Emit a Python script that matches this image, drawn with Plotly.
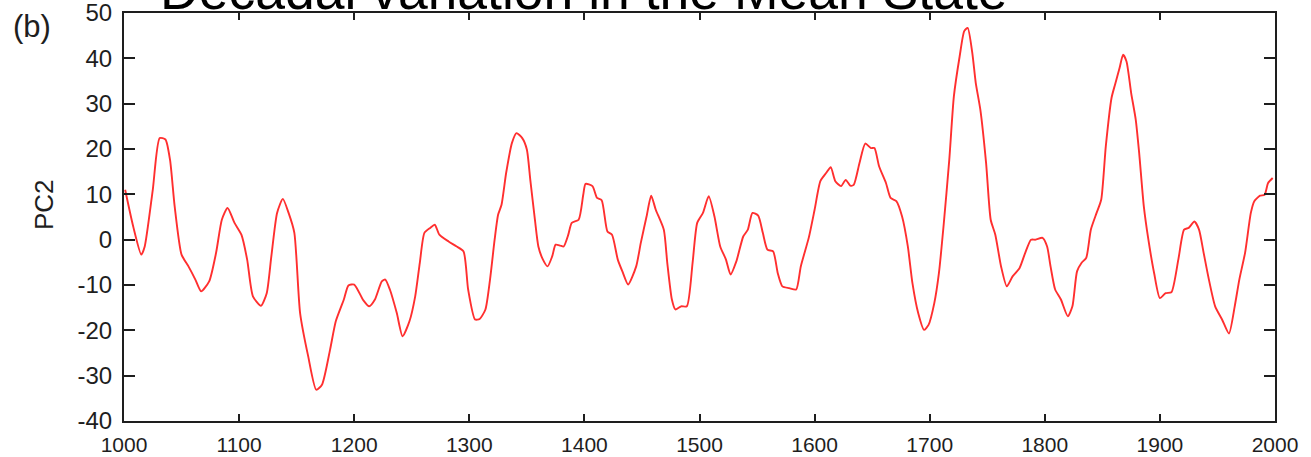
import plotly.graph_objects as go

# PC2 of the decadal mean-state variation, years 1000-2000
years = [
    1001, 1008, 1015, 1018, 1025, 1031, 1036, 1040, 1044, 1050, 1056, 1062, 1067,
    1074, 1080, 1085, 1090, 1096, 1102, 1107, 1112, 1119, 1124, 1128, 1133, 1138,
    1143, 1148, 1153, 1160, 1167, 1172, 1179, 1184, 1191, 1195, 1200, 1208, 1213,
    1218, 1224, 1227, 1231, 1237, 1242, 1248, 1253, 1257, 1261, 1266, 1270, 1274,
    1282, 1289, 1295, 1299, 1305, 1309, 1314, 1318, 1322, 1325, 1328, 1332, 1337,
    1341, 1346, 1350, 1353, 1357, 1360, 1364, 1368, 1372, 1375, 1379, 1382, 1386,
    1389, 1395, 1399, 1401, 1407, 1411, 1415, 1420, 1424, 1429, 1433, 1438, 1445,
    1449, 1454, 1458, 1462, 1469, 1472, 1476, 1479, 1484, 1489, 1494, 1498, 1503,
    1508, 1513, 1518, 1523, 1527, 1532, 1538, 1542, 1546, 1551, 1555, 1559, 1564,
    1568, 1572, 1578, 1584, 1588, 1595, 1600, 1605, 1610, 1614, 1618, 1623, 1627,
    1631, 1634, 1639, 1644, 1649, 1652, 1656, 1662, 1666, 1671, 1676, 1681, 1685,
    1690, 1695, 1699, 1704, 1708, 1712, 1717, 1721, 1726, 1730, 1733, 1737, 1740,
    1744, 1749, 1753, 1757, 1762, 1767, 1772, 1778, 1783, 1788, 1792, 1798, 1802,
    1805, 1809, 1814, 1820, 1824, 1828, 1832, 1836, 1840, 1845, 1849, 1853, 1858,
    1861, 1865, 1868, 1871, 1875, 1879, 1882, 1886, 1890, 1895, 1900, 1905, 1910,
    1916, 1921, 1925, 1930, 1934, 1938, 1942, 1948, 1954, 1960, 1965, 1969, 1974,
    1979, 1982, 1987, 1991, 1994, 1998,
]
pc2 = [
    11.0, 2.9, -3.3, -1.5, 11.0, 22.4, 22.1, 17.6, 7.4, -3.3, -5.9, -8.8, -11.4,
    -9.2, -2.9, 4.4, 7.0, 3.7, 1.1, -4.4, -12.5, -14.6, -11.8, -3.7, 5.9, 9.0,
    5.9, 1.5, -16.2, -25.7, -33.1, -32.0, -24.3, -18.0, -13.2, -10.1, -9.9, -13.4, -14.7,
    -13.2, -9.2, -8.8, -11.0, -16.2, -21.3, -18.0, -12.5, -5.1, 1.5, 2.6, 3.3, 1.1,
    -0.4, -1.5, -2.6, -11.0, -17.6, -17.5, -15.4, -8.8, 0.0, 5.5, 7.7, 14.7, 21.3,
    23.5, 22.4, 19.9, 13.2, 4.4, -1.5, -4.4, -5.9, -3.7, -1.1, -1.3, -1.5, 1.1,
    3.7, 4.4, 9.9, 12.3, 11.8, 9.2, 8.7, 1.8, 1.1, -4.4, -7.0, -9.9, -5.9,
    -0.7, 5.1, 9.7, 6.6, 2.2, -5.1, -13.2, -15.4, -14.7, -14.7, -5.1, 3.7, 5.9,
    9.6, 5.1, -1.5, -4.4, -7.7, -4.8, 0.7, 2.2, 5.9, 5.3, 1.5, -2.2, -2.6,
    -7.4, -10.3, -10.7, -11.0, -5.9, 0.5, 6.6, 12.9, 14.7, 16.0, 12.9, 11.8, 13.2,
    11.9, 12.1, 16.9, 21.2, 20.2, 20.2, 16.2, 12.5, 9.2, 8.5, 5.1, -1.5, -9.6,
    -16.2, -19.9, -18.8, -14.0, -7.4, 2.9, 17.6, 31.6, 40.4, 46.0, 46.7, 41.2, 34.6,
    28.7, 16.9, 4.4, 1.1, -5.9, -10.3, -8.1, -6.3, -2.9, 0.0, 0.0, 0.4, -1.5,
    -5.9, -11.0, -13.2, -16.9, -14.7, -7.0, -5.1, -4.0, 2.2, 5.9, 8.8, 20.6, 31.3,
    34.2, 37.9, 40.8, 39.3, 32.4, 26.5, 19.1, 7.4, 0.0, -7.4, -12.9, -11.8, -11.6,
    -4.4, 2.2, 2.6, 4.0, 2.2, -2.9, -8.1, -14.7, -17.6, -20.7, -14.7, -8.8, -2.9,
    5.9, 8.5, 9.7, 9.9, 12.5, 13.6,
]

x_ticks = list(range(1000, 2001, 100))
y_ticks = list(range(-40, 51, 10))

FONT = "Liberation Sans, Arial, Helvetica, sans-serif"
INK = "#1e1e1e"

fig = go.Figure()
fig.add_trace(go.Scatter(
    x=years, y=pc2, mode="lines",
    line=dict(color="#ff2f2f", width=1.9, shape="spline", smoothing=0.6),
    showlegend=False, hoverinfo="x+y",
))

axis_common = dict(
    showline=True, linecolor=INK, linewidth=2, mirror="ticks",
    ticks="inside", tickcolor=INK, tickwidth=2,
    showgrid=False, zeroline=False, automargin=False,
    ticklabeloverflow="allow",
)

fig.update_xaxes(
    range=[1000, 2000], tickvals=x_ticks, ticktext=[str(v) for v in x_ticks],
    ticklen=7, tickfont=dict(family=FONT, size=21, color=INK),
    ticklabelstandoff=4, **axis_common,
)
fig.update_yaxes(
    range=[-40, 50], tickvals=y_ticks, ticktext=[str(v) for v in y_ticks],
    ticklen=11, tickfont=dict(family=FONT, size=24, color=INK),
    ticklabelstandoff=5, **axis_common,
)

fig.update_layout(
    width=1311, height=457,
    margin=dict(l=124, r=36, t=13, b=36),
    paper_bgcolor="white", plot_bgcolor="white",
    annotations=[
        dict(text="Decadal variation in the Mean State", xref="paper", yref="paper",
             x=0.0295, y=0.978, xanchor="left", yanchor="bottom", showarrow=False,
             font=dict(family=FONT, size=53.5, color="black")),
        dict(text="(b)", xref="paper", yref="paper",
             x=(32 - 124) / 1151, y=(421 - 27) / 408, xanchor="center", yanchor="middle",
             showarrow=False, font=dict(family=FONT, size=31, color=INK)),
        dict(text="PC2", xref="paper", yref="paper", textangle=-90,
             x=(44 - 124) / 1151, y=(421 - 205) / 408, xanchor="center", yanchor="middle",
             showarrow=False, font=dict(family=FONT, size=26, color=INK)),
    ],
)

fig.write_html("out.html")
